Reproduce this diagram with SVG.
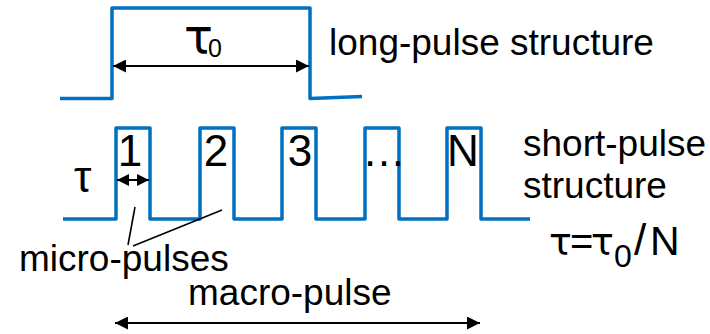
<svg xmlns="http://www.w3.org/2000/svg" width="710" height="334" viewBox="0 0 710 334">
  <defs>
    <style>
      .sig { fill: none; stroke: #0070C0; stroke-width: 3.5; stroke-linejoin: round; }
      .arr { fill: none; stroke: #000; stroke-width: 2; }
      .ptr { fill: none; stroke: #000; stroke-width: 1.6; }
      .lbl { font-family: "Liberation Sans", Arial, sans-serif; font-size: 37px; fill: #000; }
      .num { font-family: "Liberation Sans", Arial, sans-serif; font-size: 44px; fill: #000; text-anchor: middle; }
      .tau { font-family: "DejaVu Sans", sans-serif; }
      .sans { font-family: "Liberation Sans", Arial, sans-serif; fill: #000; }
    </style>
    <marker id="ah" viewBox="0 0 10 10" refX="10" refY="5" markerWidth="8" markerHeight="6.5" markerUnits="strokeWidth" orient="auto-start-reverse">
      <path d="M0,0 L10,5 L0,10 z" fill="#000"/>
    </marker>
    <marker id="ahs" viewBox="0 0 10 10" refX="10" refY="5" markerWidth="6" markerHeight="6" markerUnits="strokeWidth" orient="auto-start-reverse">
      <path d="M0,0 L10,5 L0,10 z" fill="#000"/>
    </marker>
  </defs>

  <g id="long-pulse">
    <path class="sig" d="M60,98.5 L112,98.5 L112,8 L310,8 L310,98.5 L362,96.5"/>
    <text class="sans" x="184" y="53" font-size="48"><tspan class="tau">τ</tspan><tspan font-size="25" dx="-5" dy="4">0</tspan></text>
    <text class="lbl" x="329" y="55">long-pulse structure</text>
  </g>

  <g id="short-pulse">
    <path class="sig" d="M63,219 L116,219 L116,128 L150,128 L150,219 L200,219 L200,128 L234,128 L234,219 L282,219 L282,128 L316,128 L316,219 L365,219 L365,128 L399,128 L399,219 L447,219 L447,128 L481,128 L481,219 L530,219"/>
    <text class="num" x="130" y="166">1</text>
    <text class="num" x="216" y="166">2</text>
    <text class="num" x="300" y="166">3</text>
    <text class="num" x="384" y="166">…</text>
    <text class="num" x="463" y="166">N</text>
    <text class="sans tau" x="74" y="192" font-size="44">τ</text>
    <text class="lbl" x="523" y="156">short-pulse</text>
    <text class="lbl" x="523" y="198">structure</text>
  </g>

  <g id="relation">
    <text class="sans" y="255" font-size="40"><tspan class="tau" x="549" font-size="38">τ</tspan><tspan x="570">=</tspan><tspan class="tau" x="591" font-size="38">τ</tspan><tspan x="614" y="267" font-size="32">0</tspan><tspan x="634" y="255" font-size="44">/</tspan><tspan x="650" y="255" font-size="41">N</tspan></text>
  </g>

  <g id="micro-pulses">
    <text class="lbl" x="19" y="271">micro-pulses</text>
  </g>

  <g id="macro-pulse">
    <text class="lbl" x="188" y="305">macro-pulse</text>
  </g>

  <g id="connectors">
    <line class="arr" x1="113" y1="66" x2="309" y2="66" marker-start="url(#ah)" marker-end="url(#ah)"/>
    <line class="arr" x1="117" y1="180" x2="149" y2="180" marker-start="url(#ahs)" marker-end="url(#ahs)"/>
    <line class="arr" x1="115" y1="323" x2="480" y2="323" marker-start="url(#ah)" marker-end="url(#ah)"/>
    <line class="ptr" x1="135" y1="207" x2="128" y2="245"/>
    <line class="ptr" x1="222" y1="210" x2="133" y2="246"/>
  </g>
</svg>
